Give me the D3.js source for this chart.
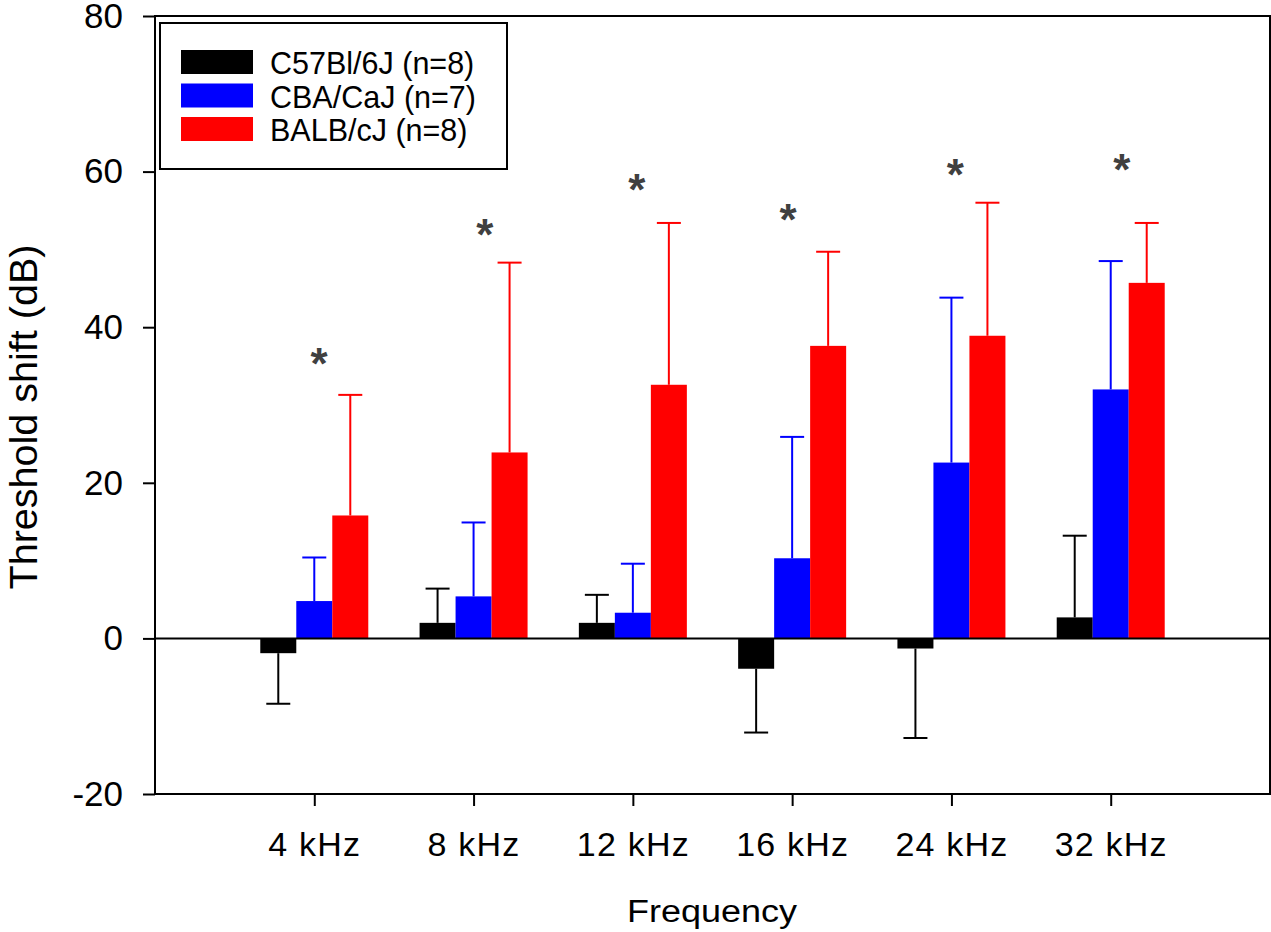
<!DOCTYPE html>
<html>
<head>
<meta charset="utf-8">
<script src="https://cdn.jsdelivr.net/npm/d3@7"></script>
<style>
body { margin: 0; background: #fff; }
text { font-family: "Liberation Sans", Arial, sans-serif; }
</style>
</head>
<body>
<svg id="chart" width="1271" height="932"></svg>
<script>
// data
var freqs = ["4 kHz", "8 kHz", "12 kHz", "16 kHz", "24 kHz", "32 kHz"];
var strains = ["C57Bl/6J (n=8)", "CBA/CaJ (n=7)", "BALB/cJ (n=8)"];
var colors = ["#000000", "#0000ff", "#ff0000"];
var c57Mean = [-1.9, 2.0, 2.0, -3.9, -1.3, 2.7];
var c57Sd   = [6.5, 4.4, 3.6, 8.2, 11.5, 10.5];
var cbaMean = [4.8, 5.4, 3.3, 10.3, 22.6, 32.0];
var cbaSd   = [5.6, 9.5, 6.3, 15.6, 21.2, 16.5];
var balbMean = [15.8, 23.9, 32.6, 37.6, 38.9, 45.7];
var balbSd   = [15.5, 24.4, 20.8, 12.1, 17.1, 7.7];
var starY   = [36.2, 52.8, 58.5, 54.7, 60.5, 61.1];
var starDx  = [0.03, 0.07, 0.025, -0.025, 0.025, 0.07];
var yTicks  = [-20, 0, 20, 40, 60, 80];

function drawChart() {
    var means = [c57Mean, cbaMean, balbMean];
    var sds = [c57Sd, cbaSd, balbSd];

    var svg = d3.select("#chart");
    var plotL = 155, plotR = 1270, plotT = 16, plotB = 794;

    var x = d3.scaleLinear().domain([0, 7]).range([plotL, plotR]);
    var y = d3.scaleLinear().domain([-20, 80]).range([plotB, plotT]);
    var barW = 36;

    // bars
    var bars = [];
    for (var s = 0; s < 3; s++) {
        for (var i = 0; i < freqs.length; i++) {
            bars.push({s: s, i: i, m: means[s][i], sd: sds[s][i]});
        }
    }
    function cx(d) { return x(d.i + 1) + (d.s - 1) * barW; }
    function tip(d) { return d.m >= 0 ? d.m + d.sd : d.m - d.sd; }

    // error bars, one sided (drawn first so the bar covers the stem)
    var err = svg.append("g").selectAll("g")
        .data(bars)
        .enter()
        .append("g")
        .attr("stroke", function (d) { return colors[d.s]; })
        .attr("stroke-width", 2);
    err.append("line")
        .attr("x1", cx).attr("x2", cx)
        .attr("y1", function (d) { return y(d.m); })
        .attr("y2", function (d) { return y(tip(d)); });
    err.append("line")
        .attr("x1", function (d) { return cx(d) - 12; })
        .attr("x2", function (d) { return cx(d) + 12; })
        .attr("y1", function (d) { return y(tip(d)); })
        .attr("y2", function (d) { return y(tip(d)); });

    svg.append("g").selectAll("rect")
        .data(bars)
        .enter()
        .append("rect")
        .attr("x", function (d) { return cx(d) - barW / 2; })
        .attr("y", function (d) { return y(Math.max(0, d.m)); })
        .attr("width", barW)
        .attr("height", function (d) { return Math.abs(y(d.m) - y(0)); })
        .attr("fill", function (d) { return colors[d.s]; });

    // zero line
    svg.append("line")
        .attr("x1", plotL).attr("x2", plotR)
        .attr("y1", y(0)).attr("y2", y(0))
        .attr("stroke", "#000").attr("stroke-width", 2);

    // frame
    svg.append("rect")
        .attr("x", plotL).attr("y", plotT)
        .attr("width", plotR - plotL).attr("height", plotB - plotT)
        .attr("fill", "none").attr("stroke", "#000").attr("stroke-width", 2);

    // axes
    var yAxis = svg.append("g")
        .attr("transform", "translate(" + plotL + ",0)")
        .call(d3.axisLeft(y).tickValues(yTicks).tickSize(12).tickPadding(20)
            .tickFormat(function (d) { return String(d); }));
    var xAxis = svg.append("g")
        .attr("transform", "translate(0," + plotB + ")")
        .call(d3.axisBottom(x).tickValues(d3.range(1, 7)).tickSize(12)
            .tickFormat(function (d) { return freqs[d - 1]; }));
    [yAxis, xAxis].forEach(function (a) {
        a.select(".domain").remove();
        a.selectAll("line").attr("stroke", "#000").attr("stroke-width", 2);
        a.selectAll("text").attr("fill", "#000")
            .style("font-family", "'Liberation Sans', Arial, sans-serif");
    });
    yAxis.selectAll("text").attr("font-size", 35);
    xAxis.selectAll("text")
        .attr("font-size", 34)
        .attr("letter-spacing", 1.2)
        .attr("y", 62).attr("dy", null);

    // stars
    svg.append("g").selectAll("text")
        .data(starY)
        .enter()
        .append("text")
        .attr("x", function (d, i) { return x(i + 1 + starDx[i]); })
        .attr("y", function (d) { return y(d) + 22; })
        .attr("text-anchor", "middle")
        .attr("font-size", 44)
        .attr("font-weight", "bold")
        .attr("fill", "#404040")
        .text("*");

    // axis titles
    svg.append("text")
        .attr("transform", "translate(37,417) rotate(-90)")
        .attr("text-anchor", "middle")
        .attr("font-size", 38)
        .attr("textLength", 345)
        .attr("lengthAdjust", "spacingAndGlyphs")
        .text("Threshold shift (dB)");
    svg.append("text")
        .attr("x", 712).attr("y", 922)
        .attr("text-anchor", "middle")
        .attr("font-size", 31)
        .attr("textLength", 170)
        .attr("lengthAdjust", "spacingAndGlyphs")
        .text("Frequency");

    // legend
    var lg = svg.append("g");
    lg.append("rect")
        .attr("x", 160).attr("y", 23).attr("width", 347).attr("height", 146)
        .attr("fill", "#fff").attr("stroke", "#000").attr("stroke-width", 2);
    var items = lg.selectAll("g.item")
        .data(strains)
        .enter()
        .append("g")
        .attr("class", "item")
        .attr("transform", function (d, i) { return "translate(0," + (i * 33.5) + ")"; });
    items.append("rect")
        .attr("x", 181).attr("y", 50).attr("width", 72).attr("height", 24)
        .attr("fill", function (d, i) { return colors[i]; });
    items.append("text")
        .attr("x", 270).attr("y", 74)
        .attr("font-size", 30.5)
        .text(function (d) { return d; });
}

drawChart();
</script>
</body>
</html>
